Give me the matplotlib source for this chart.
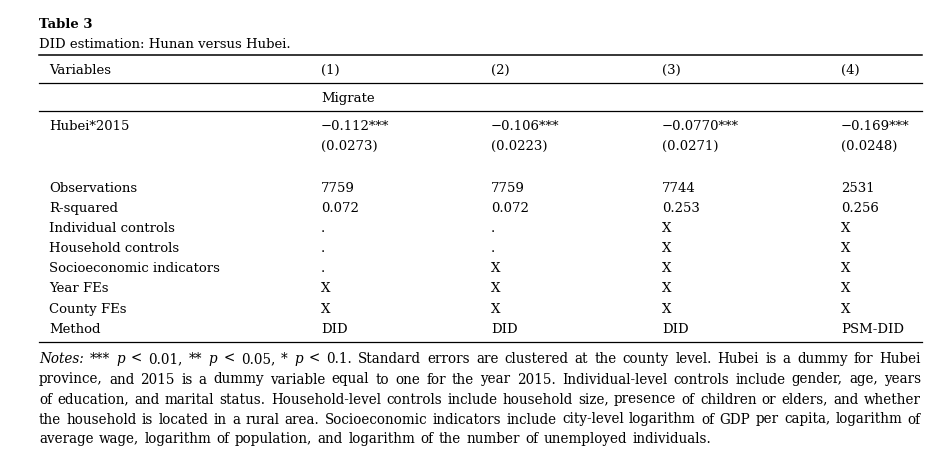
import matplotlib
matplotlib.use("Agg")
import matplotlib.pyplot as plt
from matplotlib.lines import Line2D

# table content
col_heads = ["(1)", "(2)", "(3)", "(4)"]
dep_var = "Migrate"
coef = ["\u22120.112***", "\u22120.106***", "\u22120.0770***", "\u22120.169***"]
se = ["(0.0273)", "(0.0223)", "(0.0271)", "(0.0248)"]
row_labels = ["Observations", "R-squared", "Individual controls", "Household controls",
              "Socioeconomic indicators", "Year FEs", "County FEs", "Method"]
observations = ["7759", "7759", "7744", "2531"]
r_squared = ["0.072", "0.072", "0.253", "0.256"]
individual = [".", ".", "X", "X"]
household = [".", ".", "X", "X"]
socio = [".", "X", "X", "X"]
year_fe = ["X", "X", "X", "X"]
county_fe = ["X", "X", "X", "X"]
method = ["DID", "DID", "DID", "PSM-DID"]
rows = [observations, r_squared, individual, household, socio, year_fe, county_fe, method]

notes_lines = [
    "Notes: *** p < 0.01, ** p < 0.05, * p < 0.1. Standard errors are clustered at the county level. Hubei is a dummy for Hubei",
    "province, and 2015 is a dummy variable equal to one for the year 2015. Individual-level controls include gender, age, years",
    "of education, and marital status. Household-level controls include household size, presence of children or elders, and whether",
    "the household is located in a rural area. Socioeconomic indicators include city-level logarithm of GDP per capita, logarithm of",
    "average wage, logarithm of population, and logarithm of the number of unemployed individuals.",
]

W, H = 944, 467
FONT = "DejaVu Serif"
FS = 9.5
NOTE_FS = 9.75

fig = plt.figure(figsize=(W / 100, H / 100), dpi=100)
fig.patch.set_facecolor("white")


def txt(x, y, s, **kw):
    kw.setdefault("fontsize", FS)
    kw.setdefault("family", FONT)
    kw.setdefault("va", "baseline")
    kw.setdefault("color", "black")
    return fig.text(x / W, 1 - y / H, s, **kw)


def hline(y, x0=39, x1=922, lw=0.9):
    fig.add_artist(Line2D([x0 / W, x1 / W], [1 - y / H, 1 - y / H],
                          transform=fig.transFigure, color="black", lw=lw))


# title + caption
txt(39, 28, "Table 3", weight="bold")
txt(39, 48, "DID estimation: Hunan versus Hubei.")

hline(55, lw=1.1)
hline(83)
hline(111)
hline(342)

label_x = 49
col_x = [321, 491, 662, 841]

txt(label_x, 74, "Variables")
for x, h in zip(col_x, col_heads):
    txt(x, 74, h)
txt(col_x[0], 102, dep_var)

txt(label_x, 130, "Hubei*2015")
for x, c, s in zip(col_x, coef, se):
    txt(x, 130, c)
    txt(x, 150, s)

base0, step = 191.5, 20.2
for i, (lab, vals) in enumerate(zip(row_labels, rows)):
    y = base0 + i * step
    txt(label_x, y, lab)
    for x, v in zip(col_x, vals):
        txt(x, y, v)

# notes, justified word by word
renderer = fig.canvas.get_renderer()
note_y = [363, 383.5, 403.5, 423.5, 443]
left, right = 39, 921
space_w = None
for li, (line, y) in enumerate(zip(notes_lines, note_y)):
    words = line.split(" ")
    items = []
    for w in words:
        style = "italic" if w in ("Notes:", "p") else "normal"
        t = txt(0, y, w, style=style, fontsize=NOTE_FS)
        wd = t.get_window_extent(renderer).width
        items.append((t, wd))
    if space_w is None:
        sp = txt(0, y, "a a", fontsize=NOTE_FS)
        sp2 = txt(0, y, "aa", fontsize=NOTE_FS)
        space_w = sp.get_window_extent(renderer).width - sp2.get_window_extent(renderer).width
        sp.remove()
        sp2.remove()
    total = sum(wd for _, wd in items)
    if li < len(notes_lines) - 1:
        gap = (right - left - total) / (len(items) - 1)
    else:
        gap = space_w * 1.25
    x = left
    for t, wd in items:
        t.set_x(x / W)
        x += wd + gap

fig.savefig("out.png", dpi=100, facecolor="white")
